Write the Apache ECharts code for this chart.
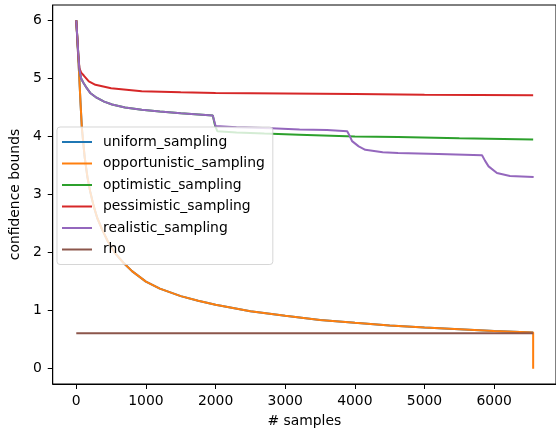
<!DOCTYPE html>
<html>
<head>
<meta charset="utf-8">
<script src="https://cdn.jsdelivr.net/npm/echarts@6/dist/echarts.min.js"></script>
<style>
  html, body { margin: 0; padding: 0; background: #fff; }
  #chart { width: 556px; height: 435px; }
</style>
</head>
<body>
<div id="chart"></div>
<script>
var xTicks = [0, 1000, 2000, 3000, 4000, 5000, 6000];
var yTicks = [0, 1, 2, 3, 4, 5, 6];

var decayX = [0, 20, 40, 60, 80, 120, 160, 200, 250, 300, 370, 450, 550, 680, 800, 1000, 1200, 1500, 1750, 2000, 2500, 3000, 3500, 4000, 4500, 5000, 5500, 6000, 6560];
var uniformY = [6.0, 5.55, 5.1, 4.6, 4.15, 3.65, 3.3, 3.05, 2.8, 2.6, 2.4, 2.2, 2.0, 1.82, 1.68, 1.5, 1.38, 1.25, 1.17, 1.1, 0.99, 0.91, 0.84, 0.79, 0.745, 0.71, 0.68, 0.65, 0.625];
var opportunisticX = decayX.concat([6560]);
var opportunisticY = uniformY.concat([0.0]);

var optimisticX = [0, 15, 30, 45, 70, 100, 136, 200, 278, 400, 514, 700, 939, 1200, 1500, 1960, 1990, 2025, 2300, 2700, 3200, 4000, 4620, 5500, 6560];
var optimisticY = [6.0, 5.7, 5.4, 5.15, 5.0, 4.93, 4.86, 4.75, 4.68, 4.6, 4.55, 4.5, 4.46, 4.43, 4.4, 4.36, 4.2, 4.09, 4.07, 4.05, 4.03, 4.0, 3.99, 3.97, 3.95];

var pessimisticX = [0, 15, 30, 45, 70, 108, 180, 275, 500, 939, 1500, 2000, 3000, 4000, 5000, 6560];
var pessimisticY = [6.0, 5.7, 5.4, 5.18, 5.1, 5.05, 4.95, 4.89, 4.83, 4.78, 4.76, 4.75, 4.74, 4.73, 4.72, 4.71];

var realisticX = [0, 15, 30, 45, 70, 100, 136, 200, 278, 400, 514, 700, 939, 1200, 1500, 1960, 1985, 2000, 2300, 2800, 3206, 3600, 3890, 3930, 3960, 4055, 4150, 4400, 4620, 5200, 5826, 5870, 5920, 6040, 6227, 6567];
var realisticY = [6.0, 5.7, 5.4, 5.15, 5.0, 4.93, 4.86, 4.75, 4.68, 4.6, 4.55, 4.5, 4.46, 4.43, 4.4, 4.36, 4.25, 4.18, 4.16, 4.14, 4.12, 4.11, 4.09, 4.0, 3.92, 3.83, 3.77, 3.73, 3.715, 3.7, 3.675, 3.58, 3.485, 3.37, 3.32, 3.3];

var rhoX = [0, 6560];
var rhoY = [0.61, 0.61];

var colors = ['#1f77b4', '#ff7f0e', '#2ca02c', '#d62728', '#9467bd', '#8c564b'];
var FONT = 'DejaVu Sans';

function pairs(xs, ys) {
  var out = [];
  for (var i = 0; i < xs.length; i++) out.push([xs[i], ys[i]]);
  return out;
}

function lineSeries(name, xs, ys) {
  return {
    name: name,
    type: 'line',
    data: pairs(xs, ys),
    symbol: 'none',
    showSymbol: false,
    lineStyle: { width: 2 },
    emphasis: { disabled: true },
    animation: false
  };
}

var chart = echarts.init(document.getElementById('chart'));
var option = {
  color: colors,
  animation: false,
  grid: {
    left: 50, top: 5, width: 510, height: 379,
    show: true, borderColor: '#000', borderWidth: 1, backgroundColor: 'transparent'
  },
  legend: {
    orient: 'vertical',
    left: 57, top: 127,
    padding: [7, 8, 7, 5],
    icon: 'rect',
    itemWidth: 30, itemHeight: 2, itemGap: 5.5,
    backgroundColor: 'rgba(255,255,255,0.8)',
    borderColor: 'rgba(204,204,204,0.8)', borderWidth: 1, borderRadius: 3,
    textStyle: { fontFamily: FONT, fontSize: 13.9, color: '#000', padding: [0, 0, 0, 6], lineHeight: 16 },
    data: ['uniform_sampling', 'opportunistic_sampling', 'optimistic_sampling', 'pessimistic_sampling', 'realistic_sampling', 'rho']
  },
  xAxis: {
    type: 'value',
    min: -338, max: 6888,
    name: '# samples', nameLocation: 'middle', nameGap: 30,
    nameTextStyle: { fontFamily: FONT, fontSize: 13.9, color: '#000' },
    axisLine: { show: true, onZero: false, lineStyle: { color: '#000', width: 1 } },
    axisTick: { show: true, length: 5, customValues: xTicks, lineStyle: { color: '#000' } },
    axisLabel: {
      customValues: xTicks, margin: 10, fontFamily: FONT, fontSize: 13.9, color: '#000',
      formatter: function (v) { return String(v); }
    },
    splitLine: { show: false }
  },
  yAxis: {
    type: 'value',
    min: -0.264, max: 6.265,
    name: 'confidence bounds', nameLocation: 'middle', nameGap: 24,
    nameTextStyle: { fontFamily: FONT, fontSize: 13.9, color: '#000' },
    axisLine: { show: true, onZero: false, lineStyle: { color: '#000', width: 1 } },
    axisTick: { show: true, length: 5, customValues: yTicks, lineStyle: { color: '#000' } },
    axisLabel: {
      customValues: yTicks, margin: 11, fontFamily: FONT, fontSize: 13.9, color: '#000',
      formatter: function (v) { return String(v); }
    },
    splitLine: { show: false }
  },
  series: [
    lineSeries('uniform_sampling', decayX, uniformY),
    lineSeries('opportunistic_sampling', opportunisticX, opportunisticY),
    lineSeries('optimistic_sampling', optimisticX, optimisticY),
    lineSeries('pessimistic_sampling', pessimisticX, pessimisticY),
    lineSeries('realistic_sampling', realisticX, realisticY),
    lineSeries('rho', rhoX, rhoY)
  ]
};
chart.setOption(option);
</script>
</body>
</html>
